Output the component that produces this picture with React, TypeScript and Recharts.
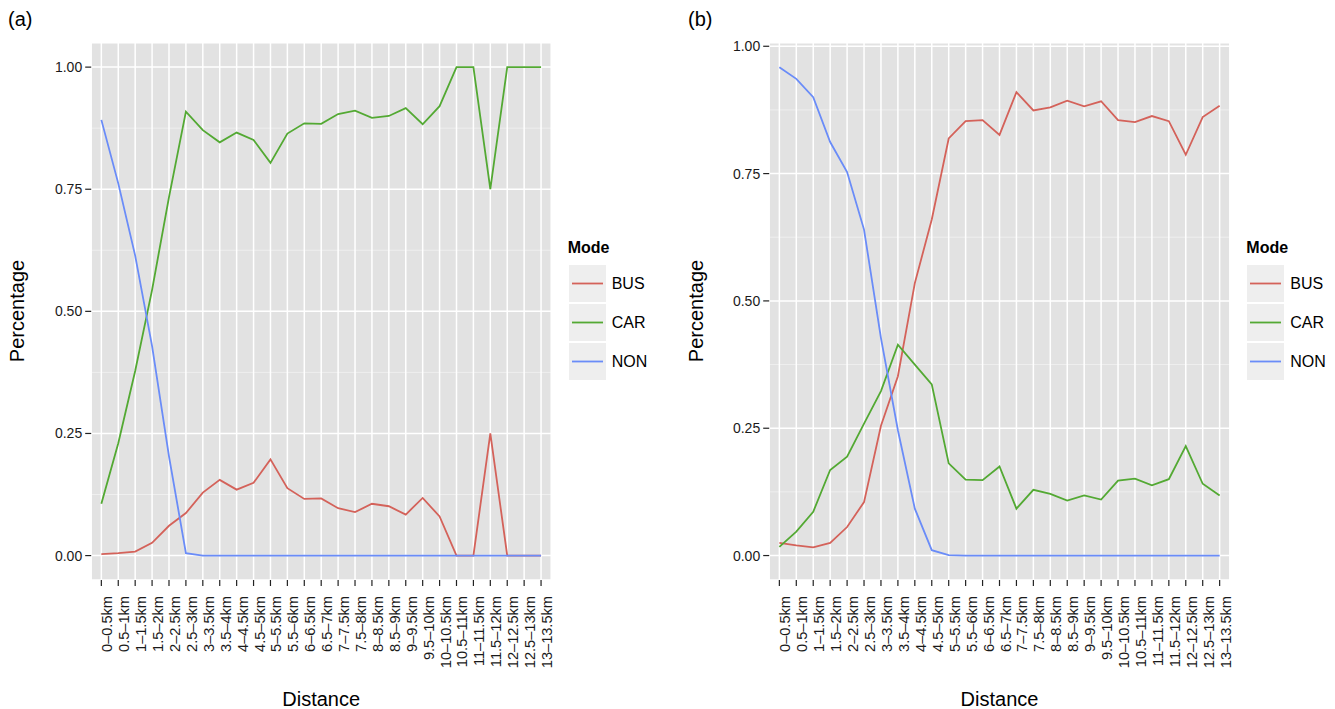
import React from 'react';
import { LineChart, Line, XAxis, YAxis, CartesianGrid, Legend } from 'recharts';

const FONT = "'Liberation Sans', Arial, Helvetica, sans-serif";

const distances = [
  '0–0.5km', '0.5–1km', '1–1.5km', '1.5–2km', '2–2.5km', '2.5–3km', '3–3.5km',
  '3.5–4km', '4–4.5km', '4.5–5km', '5–5.5km', '5.5–6km', '6–6.5km', '6.5–7km',
  '7–7.5km', '7.5–8km', '8–8.5km', '8.5–9km', '9–9.5km', '9.5–10km', '10–10.5km',
  '10.5–11km', '11–11.5km', '11.5–12km', '12–12.5km', '12.5–13km', '13–13.5km',
];

const modes = ['BUS', 'CAR', 'NON'];
const modeColors = ['#D4625A', '#53A933', '#6A8CF8'];

const yTicks = [0, 0.25, 0.5, 0.75, 1];
const yMinor = [0.125, 0.375, 0.625, 0.875];

// Panel (a)
const busA = [0.003, 0.005, 0.008, 0.026, 0.061, 0.087, 0.129, 0.155, 0.135, 0.149, 0.197, 0.138, 0.116, 0.117, 0.097, 0.089, 0.106, 0.101, 0.084, 0.118, 0.080, 0, 0, 0.25, 0, 0, 0];
const carA = [0.106, 0.230, 0.378, 0.544, 0.734, 0.909, 0.871, 0.846, 0.866, 0.851, 0.804, 0.864, 0.885, 0.884, 0.904, 0.911, 0.896, 0.900, 0.916, 0.883, 0.920, 1, 1, 0.75, 1, 1, 1];
const nonA = [0.892, 0.762, 0.614, 0.429, 0.203, 0.005, 0, 0, 0, 0, 0, 0, 0, 0, 0, 0, 0, 0, 0, 0, 0, 0, 0, 0, 0, 0, 0];

// Panel (b)
const busB = [0.025, 0.020, 0.016, 0.025, 0.056, 0.105, 0.255, 0.352, 0.535, 0.660, 0.819, 0.853, 0.855, 0.826, 0.910, 0.874, 0.880, 0.893, 0.882, 0.892, 0.855, 0.851, 0.863, 0.853, 0.787, 0.861, 0.883];
const carB = [0.017, 0.047, 0.086, 0.168, 0.194, 0.259, 0.323, 0.414, 0.375, 0.336, 0.181, 0.149, 0.148, 0.175, 0.092, 0.129, 0.121, 0.108, 0.118, 0.110, 0.147, 0.151, 0.138, 0.150, 0.215, 0.141, 0.118];
const nonB = [0.959, 0.936, 0.900, 0.812, 0.753, 0.640, 0.427, 0.246, 0.092, 0.0105, 0.001, 0, 0, 0, 0, 0, 0, 0, 0, 0, 0, 0, 0, 0, 0, 0, 0];

const xIdx = distances.map((_, i) => i);

const XTick = (props: any) => {
  const { x, y, payload } = props;
  return (
    <text
      transform={`translate(${x + 11},${y}) rotate(-90)`}
      textAnchor="end"
      fontSize={14.6}
      fontFamily={FONT}
      fill="#1a1a1a"
    >
      {distances[payload.value]}
    </text>
  );
};

const LegendBox = () => (
  <div style={{ fontFamily: FONT, color: '#000' }}>
    <div style={{ fontWeight: 'bold', fontSize: 16, lineHeight: '20px', height: 20, marginBottom: 6 }}>Mode</div>
    {modes.map((m, i) => (
      <div key={m} style={{ display: 'flex', alignItems: 'center', height: 39 }}>
        <svg width={39} height={39} style={{ display: 'block' }}>
          <rect x={1} y={1} width={37} height={37} fill="#EEEEEE" />
          <line x1={4} x2={35} y1={19.5} y2={19.5} stroke={modeColors[i]} strokeWidth={1.8} />
        </svg>
        <span style={{ fontSize: 16, marginLeft: 5, lineHeight: '20px' }}>{m}</span>
      </div>
    ))}
  </div>
);

type PanelProps = {
  tag: string;
  bus: number[];
  car: number[];
  non: number[];
  yDomain: [number, number];
  left: number;
  width: number;
  marginLeft: number;
  marginRight: number;
};

const Panel = ({ tag, bus, car, non, yDomain, left, width, marginLeft, marginRight }: PanelProps) => {
  const data = distances.map((d, i) => ({ idx: i, name: d, BUS: bus[i], CAR: car[i], NON: non[i] }));
  const plotLeft = marginLeft + 60;
  const plotRight = width - marginRight;
  const cx = (plotLeft + plotRight) / 2;
  return (
    <div style={{ position: 'absolute', left, top: 0, width, height: 709 }}>
      <LineChart
        width={width}
        height={709}
        data={data}
        margin={{ top: 42.7, right: marginRight, bottom: 29, left: marginLeft }}
      >
        <CartesianGrid
          fill="#E2E2E2"
          stroke="#F1F1F1"
          strokeWidth={0.8}
          vertical={false}
          horizontalValues={yMinor}
        />
        <CartesianGrid stroke="#FFFFFF" strokeWidth={1.5} />
        <XAxis
          type="number"
          dataKey="idx"
          domain={[-0.6, 26.6]}
          ticks={xIdx}
          interval={0}
          allowDataOverflow
          axisLine={false}
          tickLine={{ stroke: '#222', strokeWidth: 1.2 }}
          tickSize={6}
          tickMargin={10}
          height={100}
          tick={<XTick />}
        />
        <YAxis
          type="number"
          domain={yDomain}
          ticks={yTicks}
          allowDataOverflow
          axisLine={false}
          tickLine={{ stroke: '#222', strokeWidth: 1.2 }}
          tickSize={6}
          tickMargin={3}
          width={60}
          tick={{ fontSize: 14, fontFamily: FONT, fill: '#1a1a1a' }}
          tickFormatter={(v: number) => v.toFixed(2)}
        />
        {modes.map((m, i) => (
          <Line
            key={m}
            type="linear"
            dataKey={m}
            stroke={modeColors[i]}
            strokeWidth={1.8}
            dot={false}
            activeDot={false}
            isAnimationActive={false}
          />
        ))}
        <Legend
          layout="vertical"
          align="center"
          verticalAlign="middle"
          wrapperStyle={{ left: plotRight + 16.5, top: 238, width: 110 }}
          content={() => <LegendBox />}
        />
      </LineChart>
      <div style={{ position: 'absolute', left: 8, top: 7, fontFamily: FONT, fontSize: 20, lineHeight: '24px' }}>{tag}</div>
      <div
        style={{
          position: 'absolute',
          left: (tag === '(a)' ? 17 : 16) - 100,
          top: 311 - 12,
          width: 200,
          height: 24,
          lineHeight: '24px',
          textAlign: 'center',
          transform: 'rotate(-90deg)',
          fontFamily: FONT,
          fontSize: 20,
        }}
      >
        Percentage
      </div>
      <div
        style={{
          position: 'absolute',
          left: cx - 100,
          top: 687,
          width: 200,
          height: 24,
          lineHeight: '24px',
          textAlign: 'center',
          fontFamily: FONT,
          fontSize: 20,
        }}
      >
        Distance
      </div>
    </div>
  );
};

export default function App() {
  return (
    <div style={{ position: 'absolute', left: 0, top: 0, width: 1335, height: 709, background: '#fff', overflow: 'hidden' }}>
      <Panel tag="(a)" bus={busA} car={carA} non={nonA} yDomain={[-0.05, 1.05]} left={0} width={680} marginLeft={31.2} marginRight={128.8} />
      <Panel tag="(b)" bus={busB} car={carB} non={nonB} yDomain={[-0.048, 1.007]} left={680} width={655} marginLeft={29.2} marginRight={105.2} />
    </div>
  );
}
